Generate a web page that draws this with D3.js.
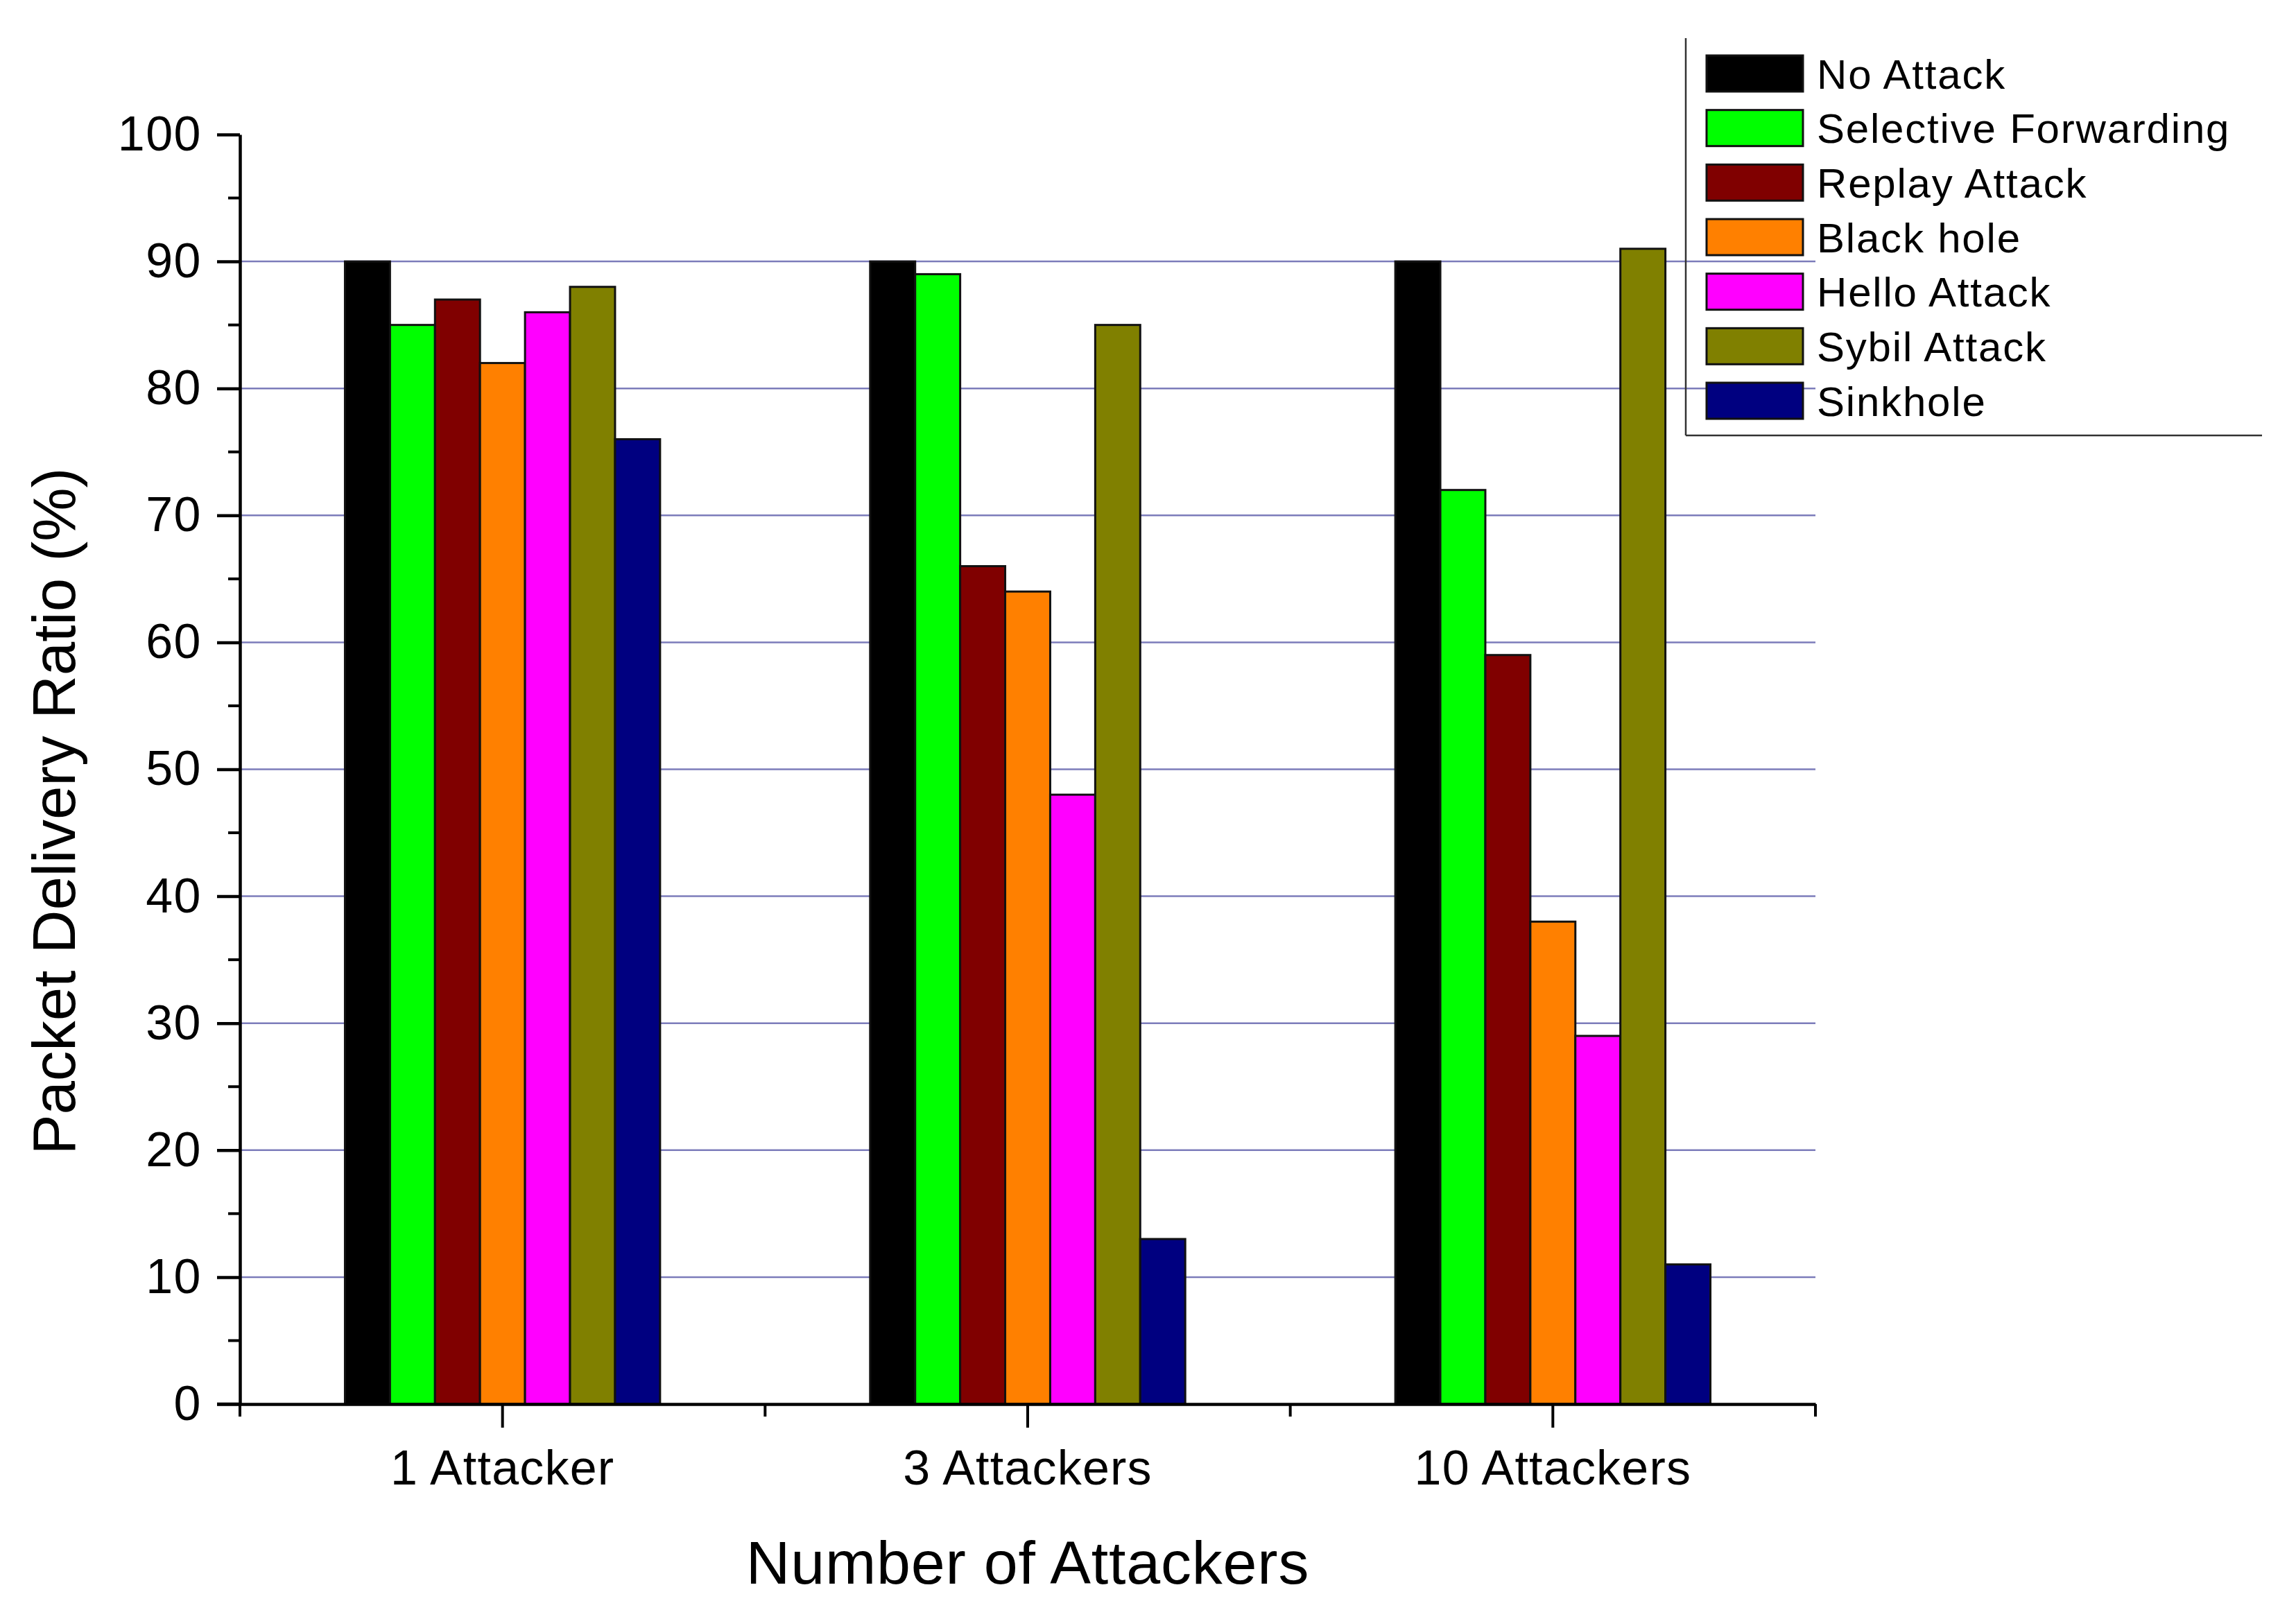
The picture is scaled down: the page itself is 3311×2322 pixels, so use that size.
<!DOCTYPE html>
<html>
<head>
<meta charset="utf-8">
<script src="https://cdn.jsdelivr.net/npm/d3@7"></script>
<style>
  html, body { margin: 0; padding: 0; background: #fff; }
  svg { display: block; }
  text { font-family: "Liberation Sans", Arial, sans-serif; fill: #000; }
</style>
</head>
<body>
<svg id="chart" width="3311" height="2322"></svg>
<script>
// ---- data ----
const categories = ["1 Attacker", "3 Attackers", "10 Attackers"];
const seriesNames = ["No Attack", "Selective Forwarding", "Replay Attack", "Black hole", "Hello Attack", "Sybil Attack", "Sinkhole"];
const seriesColors = ["#000000", "#00ff00", "#800000", "#ff8000", "#ff00ff", "#808000", "#000080"];
const noAttack = [90, 90, 90];
const selectiveForwarding = [85, 89, 72];
const replayAttack = [87, 66, 59];
const blackHole = [82, 64, 38];
const helloAttack = [86, 48, 29];
const sybilAttack = [88, 85, 91];
const sinkhole = [76, 13, 11];
const yTicks = [0, 10, 20, 30, 40, 50, 60, 70, 80, 90, 100];
const yMinorTicks = [5, 15, 25, 35, 45, 55, 65, 75, 85, 95];
const gridValues = [10, 20, 30, 40, 50, 60, 70, 80, 90];
const xTitle = "Number of Attackers";
const yTitle = "Packet Delivery Ratio (%)";

const seriesValues = [noAttack, selectiveForwarding, replayAttack, blackHole, helloAttack, sybilAttack, sinkhole];

(function () {
// ---- layout ----
const svg = d3.select("#chart");
const pLeft = 346, pRight = 2618, pTop = 194, pBottom = 2025;

const x = d3.scaleBand().domain(categories).range([pLeft, pRight]).padding(0);
const groupFrac = 0.6;
const xInner = d3.scaleBand().domain(seriesNames)
  .range([0, x.bandwidth() * groupFrac]).padding(0);
const y = d3.scaleLinear().domain([0, 100]).range([pBottom, pTop]);

// gridlines
svg.append("g").selectAll("line").data(gridValues).join("line")
  .attr("x1", pLeft).attr("x2", pRight)
  .attr("y1", d => y(d)).attr("y2", d => y(d))
  .attr("stroke", "#7c7cba").attr("stroke-width", 2.5);

// bars
const gBars = svg.append("g");
seriesNames.forEach((name, si) => {
  gBars.selectAll(null).data(seriesValues[si]).join("rect")
    .attr("x", (d, ci) => x(categories[ci]) + x.bandwidth() * (1 - groupFrac) / 2 + xInner(name))
    .attr("width", xInner.bandwidth())
    .attr("y", d => y(d))
    .attr("height", d => y(0) - y(d))
    .attr("fill", seriesColors[si])
    .attr("stroke", "#111")
    .attr("stroke-width", 3);
});

// y axis
const yAxis = d3.axisLeft(y).tickValues(yTicks).tickSize(33).tickSizeOuter(0).tickPadding(22);
const gy = svg.append("g").attr("transform", `translate(${pLeft},0)`).call(yAxis);
gy.select(".domain").attr("stroke", "#000").attr("stroke-width", 4.5);
gy.selectAll(".tick line").attr("stroke", "#000").attr("stroke-width", 4.5);
gy.selectAll(".tick text").attr("font-size", 70).attr("letter-spacing", 1.5)
  .attr("font-family", "Liberation Sans, Arial, sans-serif");
svg.append("g").selectAll("line").data(yMinorTicks).join("line")
  .attr("x1", pLeft - 17).attr("x2", pLeft)
  .attr("y1", d => y(d)).attr("y2", d => y(d))
  .attr("stroke", "#000").attr("stroke-width", 4);

// x axis
const xAxis = d3.axisBottom(x).tickSize(34).tickSizeOuter(0).tickPadding(32);
const gx = svg.append("g").attr("transform", `translate(0,${pBottom})`).call(xAxis);
gx.select(".domain").attr("stroke", "#000").attr("stroke-width", 4.5);
gx.selectAll(".tick line").attr("stroke", "#000").attr("stroke-width", 4);
gx.selectAll(".tick text").attr("font-size", 70).attr("letter-spacing", 1.2)
  .attr("font-family", "Liberation Sans, Arial, sans-serif");
// minor ticks at category boundaries
const bounds = categories.map(c => x(c)).concat([x(categories[categories.length - 1]) + x.step()]);
svg.append("g").selectAll("line").data(bounds).join("line")
  .attr("x1", d => d).attr("x2", d => d)
  .attr("y1", pBottom).attr("y2", pBottom + 18)
  .attr("stroke", "#000").attr("stroke-width", 4);
// extend x axis slightly left to meet the 0 tick
svg.append("line").attr("x1", pLeft - 33).attr("x2", pLeft).attr("y1", pBottom).attr("y2", pBottom)
  .attr("stroke", "#000").attr("stroke-width", 4.5);

// axis titles
svg.append("text").attr("x", 1482).attr("y", 2284).attr("text-anchor", "middle")
  .attr("font-size", 88).attr("letter-spacing", 0.8).text(xTitle);
svg.append("text").attr("transform", "translate(108,1170) rotate(-90)").attr("text-anchor", "middle")
  .attr("font-size", 87).text(yTitle);

// legend
const lg = svg.append("g");
lg.append("line").attr("x1", 2431).attr("x2", 2431).attr("y1", 55).attr("y2", 628)
  .attr("stroke", "#333").attr("stroke-width", 2.5);
lg.append("line").attr("x1", 2431).attr("x2", 3262).attr("y1", 628).attr("y2", 628)
  .attr("stroke", "#333").attr("stroke-width", 2.5);
const rowY = d3.scalePoint().domain(seriesNames).range([106, 578]);
const rows = lg.selectAll("g.row").data(seriesNames).join("g").attr("class", "row")
  .attr("transform", d => `translate(0,${rowY(d)})`);
rows.append("rect").attr("x", 2461).attr("y", -26).attr("width", 139).attr("height", 52)
  .attr("fill", (d, i) => seriesColors[i]).attr("stroke", "#111").attr("stroke-width", 3);
rows.append("text").attr("x", 2620).attr("y", 0).attr("dy", "0.36em")
  .attr("font-size", 60).attr("letter-spacing", 1.8).text(d => d);
})();
</script>
</body>
</html>
